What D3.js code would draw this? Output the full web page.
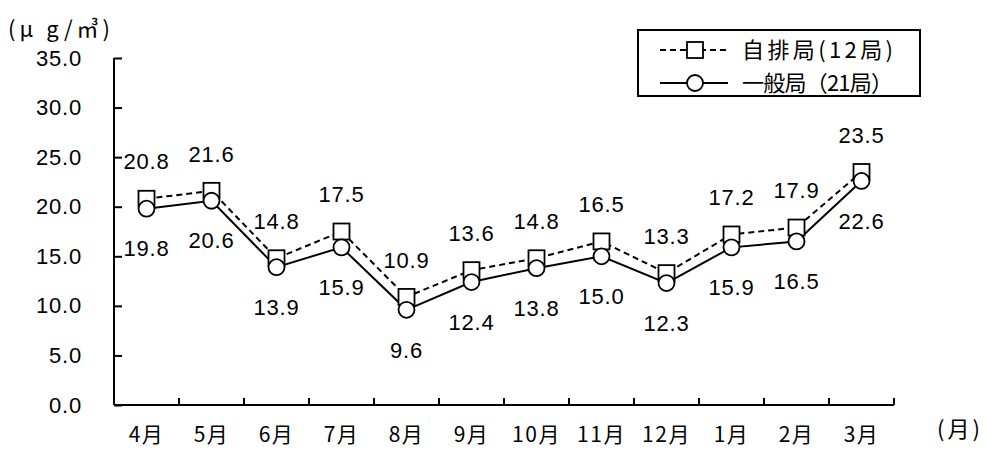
<!DOCTYPE html>
<html><head><meta charset="utf-8">
<script src="https://cdn.jsdelivr.net/npm/d3@7"></script>
<style>
body{margin:0;background:#fff;}
svg{display:block;}
.num{font-family:"Liberation Sans",Arial,sans-serif;font-size:22px;letter-spacing:0.8px;fill:#000;}
.jp{font-family:"Noto Sans CJK JP",sans-serif;fill:#000;}
</style></head>
<body><svg id="c" width="987" height="449"></svg>
<script>
const categories = ["4月","5月","6月","7月","8月","9月","10月","11月","12月","1月","2月","3月"];
const jihai = [20.8,21.6,14.8,17.5,10.9,13.6,14.8,16.5,13.3,17.2,17.9,23.5];
const ippan = [19.8,20.6,13.9,15.9,9.6,12.4,13.8,15.0,12.3,15.9,16.5,22.6];
const yTicks = [0,5,10,15,20,25,30,35];
const seriesNames = ["自排局(12局)","一般局（21局）"];
const yUnit = "(μ g/㎥)";
const xUnit = "(月)";

const svg = d3.select("#c");
const L=114, R=894, T=58, B=405;
const x = d3.scaleBand().domain(categories).range([L,R]).padding(0);
const y = d3.scaleLinear().domain([0,35]).range([B,T]);
const cx = d => x(d)+x.bandwidth()/2;

// Y axis
const ya = svg.append("g").attr("transform",`translate(${L},0)`)
  .call(d3.axisLeft(y).tickValues(yTicks).tickSize(-8).tickPadding(32).tickFormat(d=>d.toFixed(1)));
ya.select(".domain").attr("stroke","#000").attr("stroke-width",2).attr("d",`M0,${T}V${B}`);
ya.selectAll(".tick line").attr("stroke","#000").attr("stroke-width",2);
ya.selectAll(".tick text").attr("class","num").attr("font-family",null).attr("font-size",null);

// X axis
const xa = svg.append("g");
xa.append("line").attr("x1",L).attr("x2",R).attr("y1",B).attr("y2",B).attr("stroke","#000").attr("stroke-width",2);
xa.selectAll(".xt").data(categories).join("line")
  .attr("x1",d=>x(d)+x.bandwidth()).attr("x2",d=>x(d)+x.bandwidth())
  .attr("y1",B).attr("y2",B-7).attr("stroke","#000").attr("stroke-width",2);
xa.selectAll(".xl").data(categories).join("text").attr("class","jp")
  .attr("x",d=>cx(d)).attr("y",435).attr("dy","0.35em").attr("text-anchor","middle")
  .style("font-size","21px").attr("letter-spacing",1.5).text(d=>d);

svg.append("text").attr("class","jp").attr("x",937).attr("y",429).attr("dy","0.35em")
  .style("font-size","22px").attr("textLength",43).attr("lengthAdjust","spacing").text(xUnit);
svg.append("text").attr("class","jp").attr("x",8).attr("y",29).attr("dy","0.35em")
  .style("font-size","22px").attr("textLength",102).attr("lengthAdjust","spacing").text(yUnit);

// lines
const line = d3.line().x((d,i)=>cx(categories[i])).y(d=>y(d));
svg.append("path").datum(jihai).attr("d",line).attr("fill","none").attr("stroke","#000")
  .attr("stroke-width",2).attr("stroke-dasharray","6,4");
svg.append("path").datum(ippan).attr("d",line).attr("fill","none").attr("stroke","#000")
  .attr("stroke-width",2);

// markers
svg.selectAll(".sq").data(jihai).join("rect")
  .attr("x",(d,i)=>cx(categories[i])-8).attr("y",d=>y(d)-8).attr("width",16).attr("height",16)
  .attr("fill","#fff").attr("stroke","#000").attr("stroke-width",1.8);
svg.selectAll(".ci").data(ippan).join("circle")
  .attr("cx",(d,i)=>cx(categories[i])).attr("cy",d=>y(d)).attr("r",8)
  .attr("fill","#fff").attr("stroke","#000").attr("stroke-width",1.8);

// data labels
svg.selectAll(".l1").data(jihai).join("text").attr("class","num")
  .attr("x",(d,i)=>cx(categories[i])).attr("y",d=>y(d)-37).attr("dy","0.35em")
  .attr("text-anchor","middle").text(d=>d.toFixed(1));
svg.selectAll(".l2").data(ippan).join("text").attr("class","num")
  .attr("x",(d,i)=>cx(categories[i])).attr("y",d=>y(d)+40).attr("dy","0.35em")
  .attr("text-anchor","middle").text(d=>d.toFixed(1));

// legend
const lg = svg.append("g");
lg.append("rect").attr("x",638).attr("y",30).attr("width",282).attr("height",66)
  .attr("fill","#fff").attr("stroke","#000").attr("stroke-width",2);
const rows=[50,83];
lg.append("line").attr("x1",660).attr("x2",728).attr("y1",rows[0]).attr("y2",rows[0])
  .attr("stroke","#000").attr("stroke-width",2).attr("stroke-dasharray","6,4");
lg.append("rect").attr("x",687).attr("y",rows[0]-8).attr("width",16).attr("height",16)
  .attr("fill","#fff").attr("stroke","#000").attr("stroke-width",1.8);
lg.append("line").attr("x1",660).attr("x2",728).attr("y1",rows[1]).attr("y2",rows[1])
  .attr("stroke","#000").attr("stroke-width",2);
lg.append("circle").attr("cx",695).attr("cy",rows[1]).attr("r",8)
  .attr("fill","#fff").attr("stroke","#000").attr("stroke-width",1.8);
seriesNames.forEach((n,i)=>{
  lg.append("text").attr("class","jp").attr("x",742).attr("y",rows[i]).attr("dy","0.35em")
    .style("font-size","22px").attr("textLength",151).attr("lengthAdjust","spacing").text(n);
});
</script></body></html>
